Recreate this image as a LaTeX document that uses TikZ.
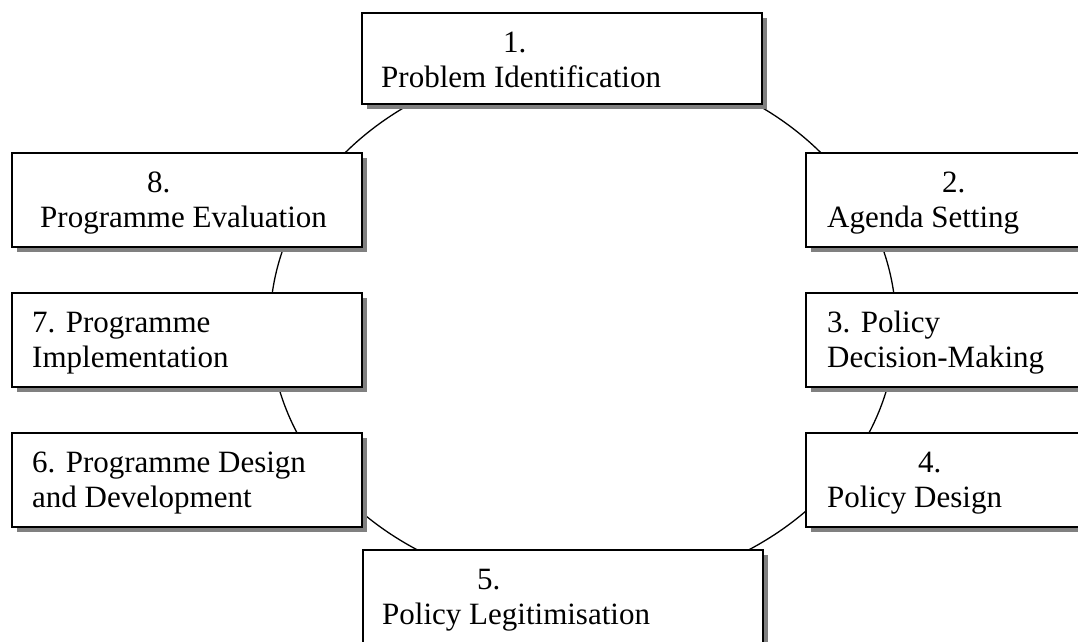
\documentclass[tikz,border=0pt]{standalone}
\usepackage{fontspec}
\setmainfont{Liberation Serif}
\usetikzlibrary{shapes.geometric,shadows}
\definecolor{shadowgray}{HTML}{808080}
\begin{document}
\begin{tikzpicture}[x=1pt,y=-1pt,
  stage/.style={rectangle, draw=black, line width=1.5pt, fill=white,
    inner sep=0pt, outer sep=0pt, anchor=north west,
    drop shadow={shadow xshift=5pt, shadow yshift=-5pt, fill=shadowgray, opacity=1}},
  lbl/.style={anchor=base west, inner sep=0pt, font=\fontsize{31}{35}\selectfont},
  cyc/.style={ellipse, draw=black, line width=1.3pt, inner sep=0pt}]
\useasboundingbox (0,0) rectangle (1078,641);
\fill[white] (0,0) rectangle (1078,641);
\clip (0,0) rectangle (1078,641);

% the policy cycle, running behind the stage boxes
\node[cyc, minimum width=626pt, minimum height=530pt] (cycle) at (583,325) {};

% stage boxes
\node[stage, minimum width=400pt, minimum height=91pt] (b1) at (362,13) {};
\node[stage, minimum width=300pt, minimum height=94pt] (b2) at (806,153) {};
\node[stage, minimum width=300pt, minimum height=94pt] (b3) at (806,293) {};
\node[stage, minimum width=300pt, minimum height=94pt] (b4) at (806,433) {};
\node[stage, minimum width=400pt, minimum height=130pt] (b5) at (363,550) {};
\node[stage, minimum width=350pt, minimum height=94pt] (b6) at (12,433) {};
\node[stage, minimum width=350pt, minimum height=94pt] (b7) at (12,293) {};
\node[stage, minimum width=350pt, minimum height=94pt] (b8) at (12,153) {};

% stage labels
\node[lbl] (t1) at (381,52) {\begin{tabular}[t]{@{}l@{}}\hspace*{122pt}1.\\Problem Identification\end{tabular}};
\node[lbl] (t2) at (827,192) {\begin{tabular}[t]{@{}l@{}}\hspace*{115pt}2.\\Agenda Setting\end{tabular}};
\node[lbl] (t3) at (827,332) {\begin{tabular}[t]{@{}l@{}}3. Policy\\Decision-Making\end{tabular}};
\node[lbl] (t4) at (827,472) {\begin{tabular}[t]{@{}l@{}}\hspace*{91pt}4.\\Policy Design\end{tabular}};
\node[lbl] (t5) at (382,589) {\begin{tabular}[t]{@{}l@{}}\hspace*{95pt}5.\\Policy Legitimisation\end{tabular}};
\node[lbl] (t6) at (32,472) {\begin{tabular}[t]{@{}l@{}}6. Programme Design\\and Development\end{tabular}};
\node[lbl] (t7) at (32,332) {\begin{tabular}[t]{@{}l@{}}7. Programme\\Implementation\end{tabular}};
\node[lbl] (t8) at (40,192) {\begin{tabular}[t]{@{}l@{}}\hspace*{107pt}8.\\Programme Evaluation\end{tabular}};
\end{tikzpicture}
\end{document}
